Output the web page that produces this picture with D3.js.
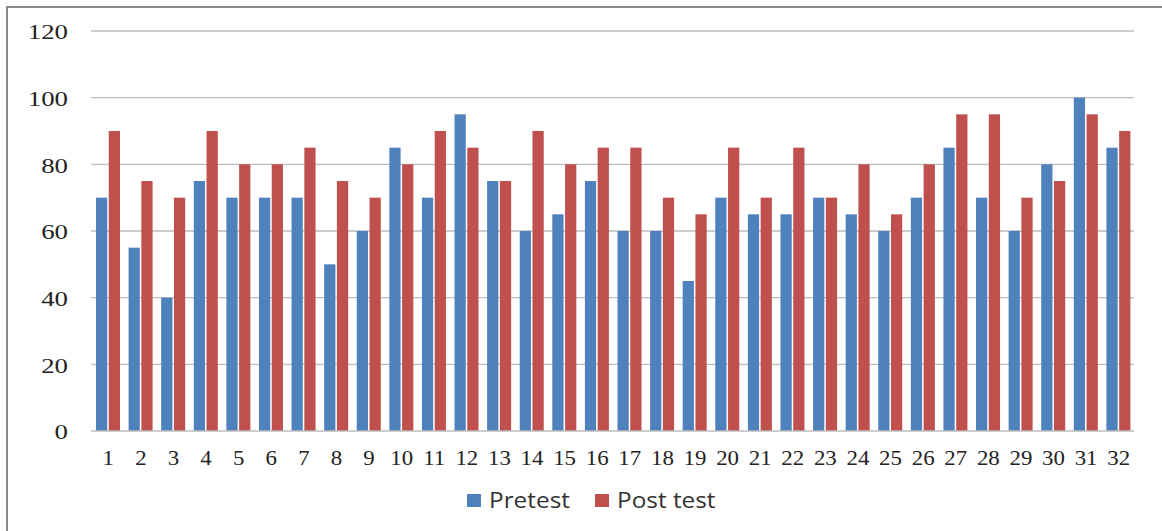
<!DOCTYPE html>
<html><head><meta charset="utf-8">
<script src="https://cdn.jsdelivr.net/npm/d3@7"></script>
<style>html,body{margin:0;padding:0;background:#fff;}</style>
</head><body>
<svg id="c" width="1162" height="531"></svg>
<script>
const categories = d3.range(1, 33).map(String);
const pretest = [70,55,40,75,70,70,70,50,60,85,70,95,75,60,65,75,60,60,45,70,65,65,70,65,60,70,85,70,60,80,100,85];
const posttest = [90,75,70,90,80,80,85,75,70,80,90,85,75,90,80,85,85,70,65,85,70,85,70,80,65,80,95,95,70,75,95,90];
const yTicks = [0,20,40,60,80,100,120];
const seriesNames = ["Pretest","Post test"];
const colors = ["#4F81BD","#C0504D"];

const svg = d3.select("#c");
svg.append("rect").attr("x",7).attr("y",7).attr("width",1200).attr("height",600)
  .attr("fill","none").attr("stroke","#8a8a8a").attr("stroke-width",2);

const L=91, R=1134, T=31, B=431;
const y = d3.scaleLinear().domain([0,120]).range([B,T]);
const x = d3.scaleBand().domain(categories).range([L,R]).paddingInner(0).paddingOuter(0);
const x1 = d3.scaleBand().domain([0,1]).range([5,5+24]).paddingInner(0.12);

// gridlines
svg.append("g").selectAll("line").data(yTicks.filter(d=>d>0)).join("line")
  .attr("x1",L).attr("x2",R).attr("y1",d=>y(d)).attr("y2",d=>y(d))
  .attr("stroke","#bdbdbd").attr("stroke-width",1.3);

// bars
const data = categories.map((c,i)=>({c, v:[pretest[i], posttest[i]]}));
const g = svg.append("g").selectAll("g").data(data).join("g")
  .attr("transform",d=>`translate(${x(d.c)},0)`);
g.selectAll("rect").data(d=>d.v.map((v,k)=>({v,k}))).join("rect")
  .attr("x",d=>x1(d.k)).attr("width",x1.bandwidth())
  .attr("y",d=>y(d.v)).attr("height",d=>B-y(d.v))
  .attr("fill",d=>colors[d.k]);

// baseline
svg.append("line").attr("x1",L).attr("x2",R).attr("y1",B).attr("y2",B)
  .attr("stroke","#bdbdbd").attr("stroke-width",1.3);

// y axis labels
const yAxis = d3.axisLeft(y).tickValues(yTicks).tickSize(0).tickPadding(0);
const ya = svg.append("g").attr("transform","translate(68,0)").call(yAxis);
ya.select(".domain").remove();
ya.selectAll("text").attr("font-family","'Liberation Serif', serif").attr("font-size",22)
  .attr("fill","#222").attr("text-anchor","end").attr("dy","0.36em")
  .attr("transform",d=>`translate(0,${y(d)}) scale(1.22,1) translate(0,${-y(d)})`);

// x axis labels
const xAxis = d3.axisBottom(x).tickSize(0).tickPadding(0);
const xa = svg.append("g").attr("transform",`translate(0,${B})`).call(xAxis);
xa.select(".domain").remove();
xa.selectAll(".tick text").attr("font-family","'Liberation Serif', serif").attr("font-size",22)
  .attr("fill","#222").attr("y",34).attr("dy",0)
  .attr("transform","scale(1.04,1)");
xa.selectAll(".tick").each(function(d){
  const cx = x(d)+x.bandwidth()/2 + 1;
  d3.select(this).attr("transform",`translate(${cx},0)`);
});

// legend
const leg = svg.append("g");
const lx = [467, 595];
seriesNames.forEach((n,i)=>{
  leg.append("rect").attr("x",lx[i]).attr("y",494).attr("width",14).attr("height",13).attr("fill",colors[i]);
  leg.append("text").attr("x",0).attr("y",508).text(n)
    .attr("font-family","'Open Sans', sans-serif").attr("font-size",21).attr("fill","#333")
    .attr("transform",`translate(${lx[i]+22},0) scale(1.16,1)`);
});
</script>
</body></html>
